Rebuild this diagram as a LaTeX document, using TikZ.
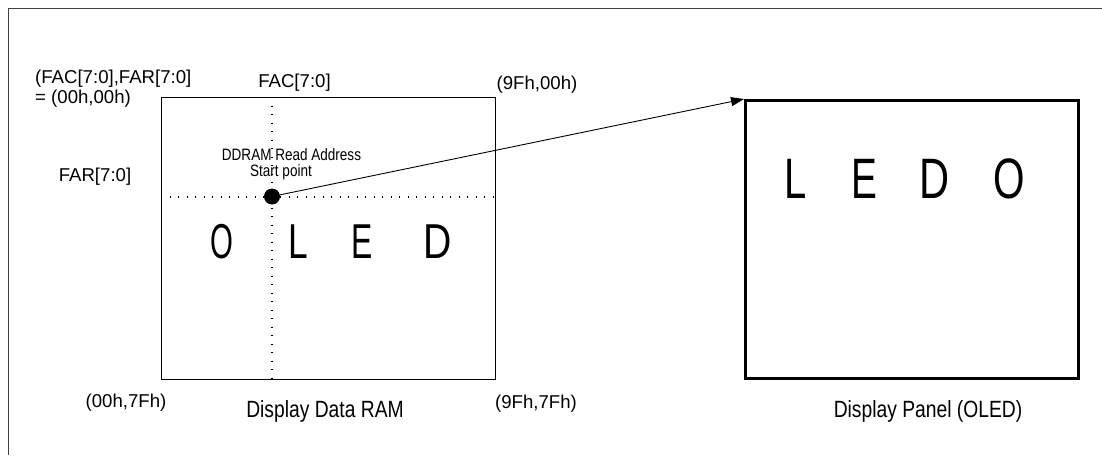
\documentclass[tikz,border=0pt]{standalone}
\usepackage{fontspec}
\usepackage{graphicx}
\setmainfont{Liberation Sans}
\usetikzlibrary{arrows.meta}
\begin{document}
\begin{tikzpicture}[x=1pt,y=-1pt,
  lbl/.style={inner sep=0pt,anchor=base,font=\fontsize{18.6}{20}\selectfont},
  narrowlbl/.style={inner sep=0pt,anchor=base,font=\fontsize{23.5}{24}\selectfont},
  smallnarrow/.style={inner sep=0pt,anchor=base,font=\fontsize{16.5}{17}\selectfont},
  bigram/.style={inner sep=0pt,anchor=base,font=\fontsize{49}{49}\selectfont},
  bigpanel/.style={inner sep=0pt,anchor=base,font=\fontsize{57}{57}\selectfont},
  guide/.style={line width=1.2pt,dash pattern=on 1.2pt off 7.3pt},
  ptr/.style={line width=0.9pt,-{Triangle[length=13pt,width=9pt]}}
]
\useasboundingbox (0,0) rectangle (1102,455);
% frame
\draw[line width=1.3pt,black!75] (8.5,455) -- (8.5,8.5) -- (1102,8.5);

% Display Data RAM box
\node[draw,line width=1pt,minimum width=334pt,minimum height=282pt,inner sep=0pt,anchor=north west] (ram) at (161,97) {};
% Display panel box
\node[draw,line width=2.5pt,minimum width=333pt,minimum height=278pt,inner sep=0pt,anchor=north west] (panel) at (744,99) {};

% guide lines
\draw[guide] (272,97) -- (272,379);
\draw[guide] (161,197) -- (495,197);

% start point
\node[circle,fill=black,minimum size=16pt,inner sep=0pt] (dot) at (272,196.5) {};
\draw[ptr] (dot) -- (panel.north west);

% labels
\node[lbl,anchor=base west] (l1) at (35,83) {(FAC[7:0],FAR[7:0]};
\node[lbl,anchor=base west] (l2) at (35,103) {= (00h,00h)};
\node[lbl] (fac) at (294.5,87) {FAC[7:0]};
\node[lbl] (c9f00) at (537,89) {(9Fh,00h)};
\node[lbl] (far) at (95,181) {FAR[7:0]};
\node[smallnarrow] (dd1) at (291.5,160) {\scalebox{0.82}[1]{DDRAM Read Address}};
\node[smallnarrow] (dd2) at (281,176) {\scalebox{0.82}[1]{Start point}};
\node[lbl] (c007f) at (126,407) {(00h,7Fh)};
\node[lbl] (c9f7f) at (536,408) {(9Fh,7Fh)};
\node[narrowlbl] (ramlbl) at (325,417) {\scalebox{0.82}[1]{Display Data RAM}};
\node[narrowlbl] (panlbl) at (928,417) {\scalebox{0.82}[1]{Display Panel (OLED)}};

% big letters in RAM
\node[bigram] (r1) at (222,258) {\scalebox{0.6}[1]{O}};
\node[bigram] (r2) at (298,258) {\scalebox{0.72}[1]{L}};
\node[bigram] (r3) at (362,258) {\scalebox{0.65}[1]{E}};
\node[bigram] (r4) at (438,258) {\scalebox{0.8}[1]{D}};

% big letters in panel
\node[bigpanel] (p1) at (796,198) {\scalebox{0.7}[1]{L}};
\node[bigpanel] (p2) at (864,198) {\scalebox{0.68}[1]{E}};
\node[bigpanel] (p3) at (935,198) {\scalebox{0.73}[1]{D}};
\node[bigpanel] (p4) at (1009,198) {\scalebox{0.71}[1]{O}};
\end{tikzpicture}
\end{document}
